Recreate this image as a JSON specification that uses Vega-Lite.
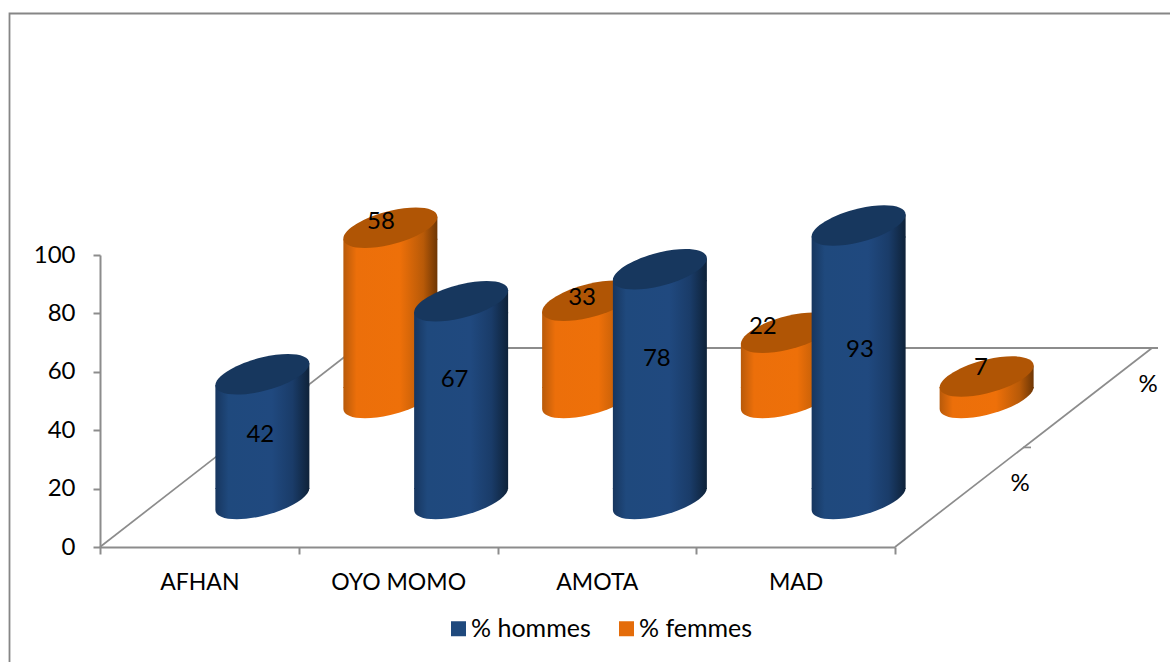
{"$schema":"https://vega.github.io/schema/vega-lite/v6.json","autosize":{"type":"none"},"width":795,"height":292,"padding":{"left":100,"top":255,"right":275,"bottom":115},"background":"#ffffff","config":{"view":{"stroke":null},"axis":{"grid":false,"domainColor":"#8C8C8C","tickColor":"#8C8C8C","domainWidth":2,"tickWidth":2,"tickSize":7,"labelFont":"Lato","labelFontSize":24,"labelColor":"#000000","title":null}},
"datasets":{"cyl":[{"category":"AFHAN","series":"% hommes","value":42},{"category":"OYO MOMO","series":"% hommes","value":67},{"category":"AMOTA","series":"% hommes","value":78},{"category":"MAD","series":"% hommes","value":93},{"category":"AFHAN","series":"% femmes","value":58},{"category":"OYO MOMO","series":"% femmes","value":33},{"category":"AMOTA","series":"% femmes","value":22},{"category":"MAD","series":"% femmes","value":7}],
"floor":[{"part":"left","fx":0,"v":0,"seq":1},{"part":"left","fx":256,"v":68.15,"seq":2},{"part":"right","fx":795,"v":0,"seq":1},{"part":"right","fx":1052,"v":68.15,"seq":2},{"part":"tick","fx":923,"v":34.1,"seq":1},{"part":"tick","fx":931,"v":34.1,"seq":2}],
"back":[{"part":"back","fx":256,"v":68.15,"seq":1},{"part":"back","fx":1058,"v":68.15,"seq":2}],
"frame":[{"part":"frame","fx":-90.5,"v":-45,"seq":1},{"part":"frame","fx":-90.5,"v":182.7,"seq":2},{"part":"frame","fx":1090,"v":182.7,"seq":3}],
"pct":[{"fx":920,"v":21.6,"t":"%"},{"fx":1048,"v":55.5,"t":"%"}]},
"resolve":{"scale":{"x":"independent"}},
"layer":[
{"data":{"name":"frame"},"mark":{"type":"line","stroke":"#868686","strokeWidth":1.8},"encoding":{"x":{"field":"fx","type":"quantitative","axis":null,"scale":{"domain":[0,795],"nice":false,"zero":false}},"y":{"field":"v","type":"quantitative","scale":{"domain":[0,100],"nice":false},"axis":{"values":[0,20,40,60,80,100],"labelPadding":18}},"order":{"field":"seq"}}},
{"data":{"name":"floor"},"mark":{"type":"line","stroke":"#8C8C8C","strokeWidth":1.7},"encoding":{"x":{"field":"fx","type":"quantitative","axis":null,"scale":{"domain":[0,795],"nice":false,"zero":false}},"y":{"field":"v","type":"quantitative"},"detail":{"field":"part"},"order":{"field":"seq"}}},
{"data":{"name":"back"},"mark":{"type":"line","stroke":"#8C8C8C","strokeWidth":2},"encoding":{"x":{"field":"fx","type":"quantitative","axis":null,"scale":{"domain":[0,795],"nice":false,"zero":false}},"y":{"field":"v","type":"quantitative"},"order":{"field":"seq"}}},
{"data":{"name":"pct"},"mark":{"type":"text","font":"Lato","fontSize":24,"color":"#000000"},"encoding":{"x":{"field":"fx","type":"quantitative","axis":null,"scale":{"domain":[0,795],"nice":false,"zero":false}},"y":{"field":"v","type":"quantitative"},"text":{"field":"t"}}},
{"data":{"name":"cyl"},"mark":{"type":"point","filled":true,"opacity":0},"encoding":{"x":{"field":"category","type":"nominal","sort":null,"title":null,"scale":{"type":"band","domain":["AFHAN","OYO MOMO","AMOTA","MAD"],"paddingInner":0,"paddingOuter":0},"axis":{"labelAngle":0,"tickBand":"extent","labelPadding":17,"labelFont":"Lato","labelFontSize":23}},"y":{"field":"value","type":"quantitative"},"color":{"field":"series","type":"nominal","scale":{"domain":["% hommes","% femmes"],"range":["#1F497D","#E46C0A"]},"legend":{"orient":"none","legendX":346,"legendY":361,"direction":"horizontal","title":null,"symbolType":"square","symbolSize":225,"symbolOpacity":1,"symbolStrokeWidth":0,"labelFont":"Lato","labelFontSize":25,"labelOffset":0,"labelColor":"#000000","columnPadding":23}}}},
{"data":{"name":"cyl"},"transform":[{"filter":"datum.series==='% femmes'"}],"encoding":{"x":{"field":"category","type":"nominal","sort":null,"axis":null,"scale":{"type":"band","domain":["AFHAN","OYO MOMO","AMOTA","MAD"],"paddingInner":0,"paddingOuter":0}}},"layer":[
{"mark":{"type":"point","filled":true,"opacity":1,"size":4,"xOffset":191,"yOffset":-149,"shape":"M-47,-11L47,-11C47,-1.61,25.96,10.92,0,17C-25.96,23.08,-47,20.39,-47,11Z","fill":{"gradient":"linear","x1":0,"x2":1,"y1":0,"y2":0,"stops":[{"offset":0,"color":"#B85A0A"},{"offset":0.14,"color":"#EC6F0A"},{"offset":0.6,"color":"#EE7009"},{"offset":0.85,"color":"#B85A08"},{"offset":1,"color":"#6E3604"}]}},"encoding":{"y":{"datum":0,"type":"quantitative"}}},
{"mark":{"type":"bar","width":94,"xOffset":191,"yOffset":-139,"y2Offset":-159,"fill":{"gradient":"linear","x1":0,"x2":1,"y1":0,"y2":0,"stops":[{"offset":0,"color":"#B85A0A"},{"offset":0.14,"color":"#EC6F0A"},{"offset":0.6,"color":"#EE7009"},{"offset":0.85,"color":"#B85A08"},{"offset":1,"color":"#6E3604"}]}},"encoding":{"y":{"field":"value","type":"quantitative"},"y2":{"datum":0}}},
{"mark":{"type":"point","filled":true,"opacity":1,"size":4,"xOffset":191,"yOffset":-150,"shape":"M-47,12L47,12L47,-11Z","fill":{"gradient":"linear","x1":0,"x2":1,"y1":0,"y2":0,"stops":[{"offset":0,"color":"#B85A0A"},{"offset":0.14,"color":"#EC6F0A"},{"offset":0.6,"color":"#EE7009"},{"offset":0.85,"color":"#B85A08"},{"offset":1,"color":"#6E3604"}]}},"encoding":{"y":{"field":"value","type":"quantitative"}}},
{"mark":{"type":"point","filled":true,"opacity":1,"size":4,"xOffset":191,"yOffset":-150,"fill":"#B05505","shape":"M47,-11C47,-1.61,25.96,10.92,0,17C-25.96,23.08,-47,20.39,-47,11C-47,1.61,-25.96,-10.92,0,-17C25.96,-23.08,47,-20.39,47,-11Z"},"encoding":{"y":{"field":"value","type":"quantitative"}}}
]},
{"data":{"name":"cyl"},"transform":[{"filter":"datum.series==='% hommes'"}],"encoding":{"x":{"field":"category","type":"nominal","sort":null,"axis":null,"scale":{"type":"band","domain":["AFHAN","OYO MOMO","AMOTA","MAD"],"paddingInner":0,"paddingOuter":0}}},"layer":[
{"mark":{"type":"point","filled":true,"opacity":1,"size":4,"xOffset":63,"yOffset":-48,"shape":"M-47,-11L47,-11C47,-1.61,25.96,10.92,0,17C-25.96,23.08,-47,20.39,-47,11Z","fill":{"gradient":"linear","x1":0,"x2":1,"y1":0,"y2":0,"stops":[{"offset":0,"color":"#17365F"},{"offset":0.14,"color":"#1F497D"},{"offset":0.6,"color":"#20497F"},{"offset":0.82,"color":"#1A3C69"},{"offset":1,"color":"#0E2239"}]}},"encoding":{"y":{"datum":0,"type":"quantitative"}}},
{"mark":{"type":"bar","width":94,"xOffset":63,"yOffset":-39,"y2Offset":-58,"fill":{"gradient":"linear","x1":0,"x2":1,"y1":0,"y2":0,"stops":[{"offset":0,"color":"#17365F"},{"offset":0.14,"color":"#1F497D"},{"offset":0.6,"color":"#20497F"},{"offset":0.82,"color":"#1A3C69"},{"offset":1,"color":"#0E2239"}]}},"encoding":{"y":{"field":"value","type":"quantitative"},"y2":{"datum":0}}},
{"mark":{"type":"point","filled":true,"opacity":1,"size":4,"xOffset":63,"yOffset":-50,"shape":"M-47,12L47,12L47,-11Z","fill":{"gradient":"linear","x1":0,"x2":1,"y1":0,"y2":0,"stops":[{"offset":0,"color":"#17365F"},{"offset":0.14,"color":"#1F497D"},{"offset":0.6,"color":"#20497F"},{"offset":0.82,"color":"#1A3C69"},{"offset":1,"color":"#0E2239"}]}},"encoding":{"y":{"field":"value","type":"quantitative"}}},
{"mark":{"type":"point","filled":true,"opacity":1,"size":4,"xOffset":63,"yOffset":-50,"fill":"#17375E","shape":"M47,-11C47,-1.61,25.96,10.92,0,17C-25.96,23.08,-47,20.39,-47,11C-47,1.61,-25.96,-10.92,0,-17C25.96,-23.08,47,-20.39,47,-11Z"},"encoding":{"y":{"field":"value","type":"quantitative"}}}
]},
{"data":{"name":"cyl"},"encoding":{"x":{"field":"category","type":"nominal","sort":null,"axis":null,"scale":{"type":"band","domain":["AFHAN","OYO MOMO","AMOTA","MAD"],"paddingInner":0,"paddingOuter":0}},"y":{"field":"value","type":"quantitative"},"text":{"field":"value","type":"quantitative"}},"layer":[
{"transform":[{"filter":"datum.series==='% hommes'&&datum.category==='AFHAN'"}],"mark":{"type":"text","font":"Lato","fontSize":24,"color":"#000000","dx":61,"dy":10.6}},
{"transform":[{"filter":"datum.series==='% hommes'&&datum.category==='OYO MOMO'"}],"mark":{"type":"text","font":"Lato","fontSize":24,"color":"#000000","dx":56.5,"dy":28.6}},
{"transform":[{"filter":"datum.series==='% hommes'&&datum.category==='AMOTA'"}],"mark":{"type":"text","font":"Lato","fontSize":24,"color":"#000000","dx":60,"dy":39.8}},
{"transform":[{"filter":"datum.series==='% hommes'&&datum.category==='MAD'"}],"mark":{"type":"text","font":"Lato","fontSize":24,"color":"#000000","dx":64.4,"dy":74.6}},
{"transform":[{"filter":"datum.series==='% femmes'&&datum.category==='AFHAN'"}],"mark":{"type":"text","font":"Lato","fontSize":24,"color":"#000000","dx":181.6,"dy":-155.6}},
{"transform":[{"filter":"datum.series==='% femmes'&&datum.category==='OYO MOMO'"}],"mark":{"type":"text","font":"Lato","fontSize":24,"color":"#000000","dx":184,"dy":-152.6}},
{"transform":[{"filter":"datum.series==='% femmes'&&datum.category==='AMOTA'"}],"mark":{"type":"text","font":"Lato","fontSize":24,"color":"#000000","dx":166,"dy":-155.8}},
{"transform":[{"filter":"datum.series==='% femmes'&&datum.category==='MAD'"}],"mark":{"type":"text","font":"Lato","fontSize":24,"color":"#000000","dx":185.4,"dy":-158.6}}
]}
]}
